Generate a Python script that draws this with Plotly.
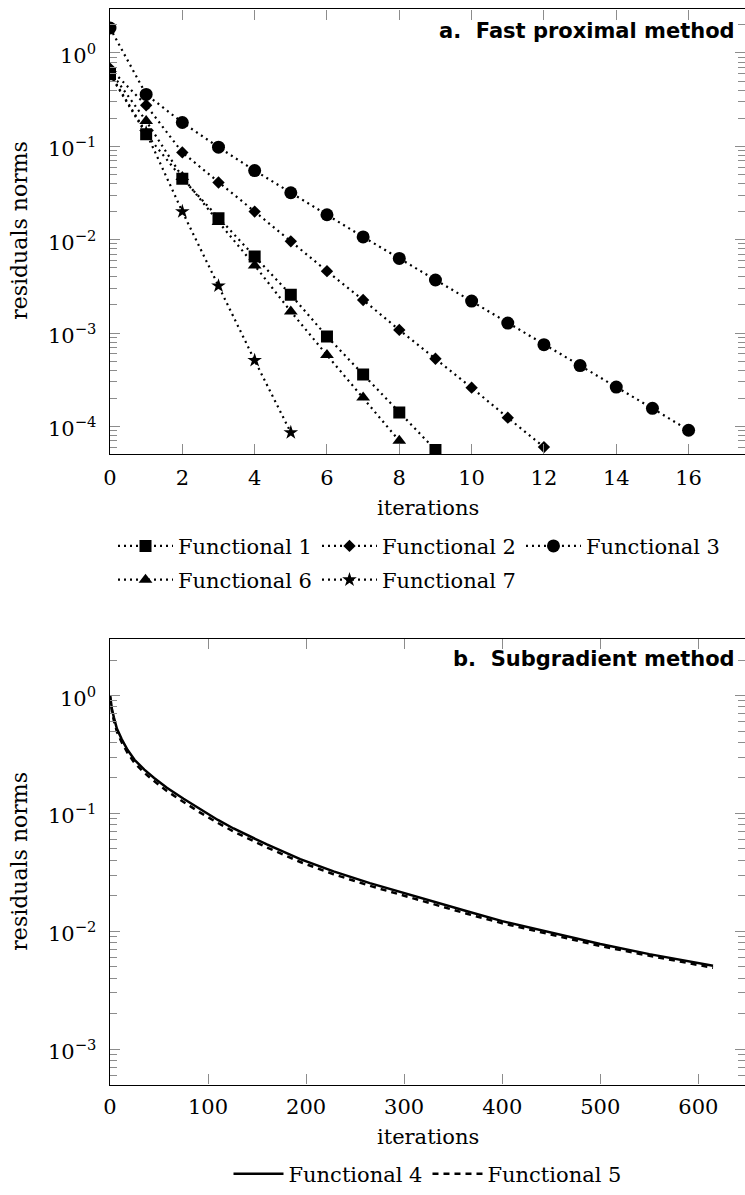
import plotly.graph_objects as go

# ---------------- data: panel a (fast proximal method) ----------------
iter_a = list(range(17))
f1 = [0.59, 0.135, 0.045, 0.017, 0.0066, 0.00257, 0.00092, 0.00036, 0.000141, 0.000056]
f2 = [0.68, 0.275, 0.086, 0.041, 0.020, 0.0096, 0.0046, 0.00226, 0.00108, 0.00053,
      0.00026, 0.000124, 0.000060]
f3 = [1.85, 0.36, 0.18, 0.098, 0.055, 0.0318, 0.0185, 0.0107, 0.0063, 0.0037, 0.0022,
      0.00128, 0.00075, 0.000448, 0.000264, 0.000156, 0.000091]
f6 = [0.64, 0.187, 0.047, 0.0155, 0.0053, 0.0017, 0.00058, 0.000204, 0.000070]
f7 = [0.60, 0.14, 0.020, 0.0032, 0.00051, 0.000086]

# ---------------- data: panel b (subgradient method) ----------------
iter_b = [0, 1, 2, 4, 7, 12, 18, 25, 35, 45, 58, 75, 92, 110, 126, 145, 160, 194, 228,
          265, 300, 333, 365, 400, 450, 500, 550, 600, 615]
f4 = [1.0, 0.86, 0.77, 0.65, 0.525, 0.425, 0.345, 0.285, 0.235, 0.20, 0.165, 0.133, 0.108,
      0.088, 0.0745, 0.0625, 0.0545, 0.041, 0.0322, 0.0256, 0.0210, 0.0175, 0.0147, 0.0122,
      0.0097, 0.0078, 0.0064, 0.0054, 0.0051]
f5 = [1.0, 0.82, 0.73, 0.61, 0.495, 0.40, 0.325, 0.268, 0.221, 0.188, 0.155, 0.125, 0.1015,
      0.083, 0.0702, 0.059, 0.0514, 0.0387, 0.0305, 0.0243, 0.0200, 0.0167, 0.0140, 0.0117,
      0.0093, 0.0075, 0.0062, 0.0052, 0.0049]

# tick labels
xticks_a = [0, 2, 4, 6, 8, 10, 12, 14, 16]
xticks_b = [0, 100, 200, 300, 400, 500, 600]
yexp_a = [-4, -3, -2, -1, 0]
yexp_b = [-3, -2, -1, 0]

SERIF = "DejaVu Serif"
SANS = "DejaVu Sans"
W, H = 745, 1195
L = 110
PW = W - L
TICKC = "#8c8c8c"

def py(pix):
    return 1 - pix / H

def px(pix):
    return (pix - L) / PW

def ylab(e):
    return "10<sup>" + ("−" if e < 0 else "") + str(abs(e)) + "</sup>"

dotdash = "2px,4px"
fig = go.Figure()
series_a = [
    ("Functional 1", f1, "square", 12, "legend"),
    ("Functional 2", f2, "diamond", 9.5, "legend"),
    ("Functional 3", f3, "circle", 13, "legend"),
    ("Functional 6", f6, "triangle-up", 12, "legend3"),
    ("Functional 7", f7, "star", 11, "legend3"),
]
for name, vals, sym, sz, lg in series_a:
    fig.add_trace(go.Scatter(
        x=iter_a[:len(vals)], y=vals, name=name, mode="lines+markers",
        line=dict(color="black", width=2.2, dash=dotdash),
        marker=dict(symbol=sym, size=sz, color="black"),
        xaxis="x", yaxis="y", legend=lg))

fig.add_trace(go.Scatter(x=iter_b, y=f4, name="Functional 4", mode="lines",
                         line=dict(color="black", width=2.5),
                         xaxis="x2", yaxis="y2", legend="legend2"))
fig.add_trace(go.Scatter(x=iter_b, y=f5, name="Functional 5", mode="lines",
                         line=dict(color="black", width=2.5, dash="6px,5px"),
                         xaxis="x2", yaxis="y2", legend="legend2"))

axis_common = dict(showline=True, linecolor="black", linewidth=1.2, mirror="allticks",
                   ticks="inside", ticklen=10, tickwidth=1.3, tickcolor=TICKC,
                   showgrid=False, zeroline=False,
                   tickfont=dict(family=SERIF, size=21, color="black"))

def minor_vals(e0, e1):
    return [m * 10.0 ** e for e in range(e0, e1) for m in range(2, 10)]

def minor_cfg(e0, e1):
    return dict(ticks="inside", ticklen=7, tickwidth=1.3, tickcolor=TICKC,
                tickmode="array", tickvals=minor_vals(e0, e1), showgrid=False)

legend_font = dict(family=SERIF, size=21, color="black")
fig.update_layout(
    width=W, height=H, margin=dict(l=L, r=0, t=0, b=0),
    paper_bgcolor="white", plot_bgcolor="white", showlegend=True,
    xaxis=dict(axis_common, domain=[0, 1], anchor="y", range=[0, 17.56],
               tickmode="array", tickvals=xticks_a, ticktext=[str(v) for v in xticks_a],
               ticklabelstandoff=4),
    yaxis=dict(axis_common, domain=[py(456.7), py(9.5)], anchor="x", type="log",
               range=[-4.30, 0.466], tickmode="array", showticklabels=False,
               tickvals=[10.0 ** e for e in yexp_a], minor=minor_cfg(-5, 1)),
    xaxis2=dict(axis_common, domain=[0, 1], anchor="y2", range=[0, 647.6],
                tickmode="array", tickvals=xticks_b, ticktext=[str(v) for v in xticks_b],
                ticklabelstandoff=3),
    yaxis2=dict(axis_common, domain=[py(1090), py(642.3)], anchor="x2", type="log",
                range=[-3.30, 0.479], tickmode="array", showticklabels=False,
                tickvals=[10.0 ** e for e in yexp_b], minor=minor_cfg(-4, 1)),
    legend=dict(orientation="h", x=px(113), xanchor="left", y=py(549), yanchor="middle",
                font=legend_font, itemwidth=55, bgcolor="rgba(0,0,0,0)",
                traceorder="normal"),
    legend3=dict(orientation="h", x=px(113), xanchor="left", y=py(583), yanchor="middle",
                 font=legend_font, itemwidth=55, bgcolor="rgba(0,0,0,0)",
                 traceorder="normal"),
    legend2=dict(orientation="h", x=0.5, xanchor="center", y=py(1180), yanchor="middle",
                 font=legend_font, itemwidth=50, bgcolor="rgba(0,0,0,0)",
                 traceorder="normal"),
)

annotations = [
    dict(text="<b>a.  Fast proximal method</b>", x=px(737), y=py(31), xanchor="right",
         yanchor="middle", font=dict(family=SANS, size=21, color="black")),
    dict(text="<b>b.  Subgradient method</b>", x=px(737), y=py(662), xanchor="right",
         yanchor="middle", font=dict(family=SANS, size=21, color="black")),
    dict(text="iterations", x=0.5, y=py(511), xanchor="center", yanchor="middle",
         font=dict(family=SERIF, size=21, color="black")),
    dict(text="iterations", x=0.5, y=py(1143), xanchor="center", yanchor="middle",
         font=dict(family=SERIF, size=21, color="black")),
    dict(text="residuals norms", x=px(20), y=py(232), textangle=-90, xanchor="center",
         yanchor="middle", font=dict(family=SERIF, size=22, color="black")),
    dict(text="residuals norms", x=px(20), y=py(866), textangle=-90, xanchor="center",
         yanchor="middle", font=dict(family=SERIF, size=22, color="black")),
]
for a in annotations:
    a.update(xref="paper", yref="paper", showarrow=False)

# y tick labels (placed on the log axes)
for yref, exps in (("y", yexp_a), ("y2", yexp_b)):
    for e in exps:
        annotations.append(dict(text=ylab(e), xref="paper", yref=yref, x=px(98), y=e,
                                xanchor="right", yanchor="middle", yshift=-1,
                                showarrow=False,
                                font=dict(family=SERIF, size=21, color="black")))
fig.update_layout(annotations=annotations)

fig.write_html("out.html")
